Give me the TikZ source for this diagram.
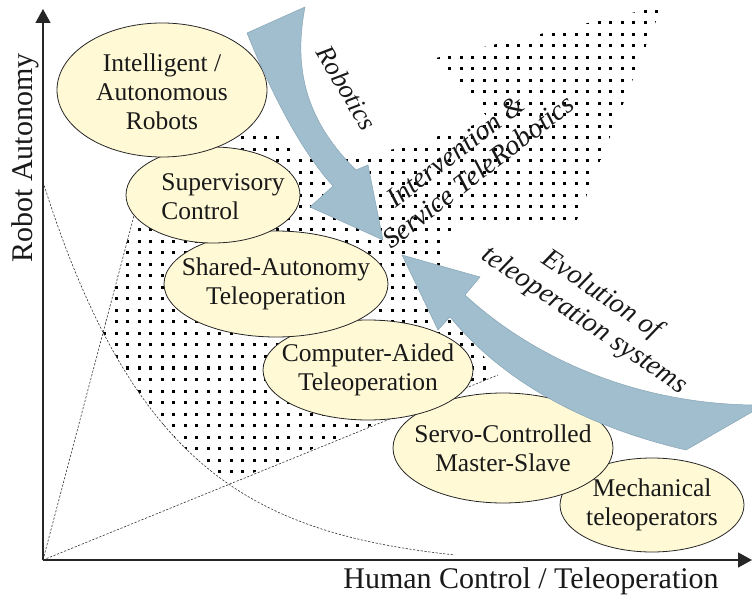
\documentclass[tikz,border=0pt]{standalone}
\usepackage{fontspec}
\setmainfont{Liberation Serif}
\usetikzlibrary{arrows.meta,shapes.geometric}
\definecolor{ellfill}{RGB}{255,249,213}
\definecolor{arrblue}{RGB}{161,190,206}
\definecolor{arredge}{RGB}{135,165,182}
\begin{document}
\begin{tikzpicture}[x=1pt,y=-1pt,
  ell/.style={ellipse, draw=black!85, line width=0.8pt, fill=ellfill, inner sep=0pt, outer sep=0pt},
  etext/.style={font=\fontsize{25.5}{29}\selectfont, align=center, inner sep=0pt, text=black!90},
  dline/.style={line width=0.6pt, dash pattern=on 2.2pt off 1.6pt, black!80},
  axisline/.style={line width=1.4pt, black!85, -{Triangle[length=14pt,width=15pt]}},
  barrow/.style={fill=arrblue, draw=arredge, line width=0.5pt},
  lbl/.style={font=\fontsize{26.5}{30}\selectfont\itshape, align=center, inner sep=0pt, text=black!90},
  biglbl/.style={font=\fontsize{28}{31}\selectfont\itshape, align=center, inner sep=0pt, text=black!90},
  axlbl/.style={font=\fontsize{30}{34}\selectfont, inner sep=0pt, text=black!90}]
\useasboundingbox (0,0) rectangle (752,601);

% dotted region
\begin{scope}
\clip (134,215) -- (200,200) -- (190,150) -- (230,130) -- (278,131) -- (300,155) -- (335,160)
  -- (400,148) -- (490,120) -- (436,58) -- (662,6) -- (576,222) -- (455,226) -- (440,245) -- (455,300)
  -- (463,330) -- (488,362) -- (498,375) -- (230,482)
  -- plot[domain=187:60, samples=30] ({43+\x},{568-386*exp(-\x/121.6)}) -- cycle;
\foreach \i in {8,...,58} {
  \foreach \j in {0,...,43} {
    \fill ({11.5*\i-0.5},{11.5*\j-1.5}) rectangle ++(3,3);
  }
}
\end{scope}

% construction lines
\coordinate (O) at (43,560);
\coordinate (lt) at (136,208);
\coordinate (rt) at (498,375);
\draw[dline] (O) -- (lt);
\draw[dline] (O) -- (rt);
\draw[dline] plot[domain=0:410, samples=60] ({43+\x},{568-386*exp(-\x/121.6)});

% axes
\coordinate (ytop) at (43,9);
\coordinate (xend) at (752,560);
\draw[axisline] (O) -- (ytop);
\draw[axisline] (O) -- (xend);

% ellipses (lower first)
\node[ell, minimum width=184pt, minimum height=94pt] (mech) at (652,505) {};
\node[etext] (mecht) at (mech) {Mechanical\\teleoperators};
\node[ell, minimum width=220pt, minimum height=110pt] (servo) at (503,448) {};
\node[etext] (servot) at (servo) {Servo-Controlled\\Master-Slave};
\node[ell, minimum width=210pt, minimum height=100pt] (cat) at (368,370) {};
\node[etext] (catt) at (cat) {Computer-Aided\\Teleoperation};
\node[ell, minimum width=224pt, minimum height=106pt] (sat) at (276,284) {};
\node[etext] (satt) at (sat) {Shared-Autonomy\\Teleoperation};
\node[ell, minimum width=174pt, minimum height=96pt] (sup) at (213,195) {};
\node[etext, align=left] (supt) at (223,197) {Supervisory\\Control};
\node[ell, minimum width=210pt, minimum height=134pt] (intel) at (162,90) {};
\node[etext] (intelt) at (162,92) {Intelligent /\\Autonomous\\Robots};

% blue arrows
\path[barrow] (247,33) -- (305,7) .. controls (295,60) and (300,115) .. (356,170) -- (368,165) -- (383,240)
  -- (310,207) -- (333,186) .. controls (300,150) and (270,90) .. cycle;
\path[barrow] (752,405) .. controls (630,403) and (530,355) .. (465,295) -- (480,277) -- (402,255)
  -- (438,330) -- (450,317) .. controls (510,390) and (600,430) .. (686,450) -- (752,412) -- cycle;

% labels
\node[axlbl, rotate=90] (ylab) at (25,158) {Robot Autonomy};
\node[axlbl] (xlab) at (531,581) {Human Control / Teleoperation};
\node[lbl, rotate=-59] (rob) at (347,88) {Robotics};
\node[biglbl, rotate=37.5, anchor=base west] (isr1) at (395,209) {Intervention \&};
\node[biglbl, rotate=37.5, anchor=base west] (isr2) at (391,250) {Service TeleRobotics};
\node[biglbl, rotate=-34] (evo) at (593,308) {Evolution of\\teleoperation systems};
\end{tikzpicture}
\end{document}
